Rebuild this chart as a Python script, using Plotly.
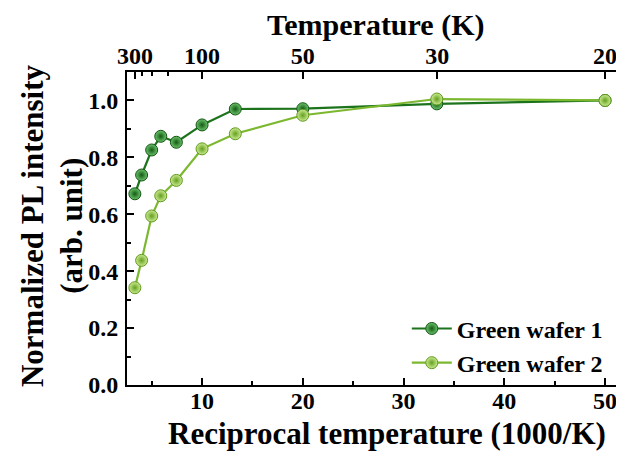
import plotly.graph_objects as go

# Data
recip_T = [3.33, 4.0, 5.0, 5.9, 7.45, 10.0, 13.3, 20.0, 33.3, 50.0]
wafer1 = [0.672, 0.738, 0.826, 0.874, 0.853, 0.914, 0.970, 0.971, 0.988, 1.0]
wafer2 = [0.342, 0.438, 0.594, 0.665, 0.719, 0.830, 0.883, 0.948, 1.005, 1.0]
top_tick_vals = [3.333, 10.0, 20.0, 33.333, 50.0]
top_tick_text = ["300", "100", "50", "30", "20"]
top_minor_vals = [4.0, 5.0, 6.667]
bottom_ticks = [10, 20, 30, 40, 50]
y_ticks = [0.0, 0.2, 0.4, 0.6, 0.8, 1.0]

FONT = "Liberation Serif"
DARK = "#1c731c"
LIGHT = "#7cb82f"

fig = go.Figure()
fig.add_trace(go.Scatter(
    x=recip_T, y=wafer1, mode="lines+markers", name="<b>Green wafer 1</b>",
    line=dict(color=DARK, width=2.2),
    marker=dict(size=12, color="#6cc46c", gradient=dict(type="radial", color="#125a12"),
                line=dict(color="#125512", width=1)),
))
fig.add_trace(go.Scatter(
    x=recip_T, y=wafer2, mode="lines+markers", name="<b>Green wafer 2</b>",
    line=dict(color=LIGHT, width=2.2),
    marker=dict(size=12, color="#cdeb94", gradient=dict(type="radial", color="#64a01e"),
                line=dict(color="#5f9a1c", width=1)),
))
fig.add_trace(go.Scatter(x=[recip_T[0]], y=[wafer1[0]], xaxis="x2", mode="markers",
                         marker=dict(opacity=0), showlegend=False, hoverinfo="skip"))
fig.add_trace(go.Scatter(x=[recip_T[0]], y=[wafer1[0]], yaxis="y2", mode="markers",
                         marker=dict(opacity=0), showlegend=False, hoverinfo="skip"))

xr = [2.55, 51.88]
yr = [0, 1.1]
tickfont = dict(family=FONT, size=24, color="black")
minor_style = dict(ticks="inside", ticklen=4, tickwidth=1.5, tickcolor="black")

fig.update_layout(
    width=616, height=446,
    margin=dict(l=119, r=0, t=64, b=69, autoexpand=False),
    plot_bgcolor="white", paper_bgcolor="white",
    font=dict(family=FONT, color="black"),
    xaxis=dict(range=xr, tickmode="array", tickvals=bottom_ticks,
               ticktext=[f"<b>{v}</b>" for v in bottom_ticks],
               ticks="inside", ticklen=7, tickwidth=2, tickcolor="black",
               minor=dict(tickmode="array", tickvals=[5, 15, 25, 35, 45], **minor_style),
               showline=True, linecolor="black", linewidth=2, mirror=False, automargin=False,
               showgrid=False, zeroline=False, tickfont=tickfont, ticklabelstandoff=-7),
    xaxis2=dict(range=xr, overlaying="x", side="top", tickmode="array",
                tickvals=top_tick_vals, ticktext=[f"<b>{t}</b>" for t in top_tick_text],
                ticks="inside", ticklen=7, tickwidth=2, tickcolor="black",
                minor=dict(tickmode="array", tickvals=top_minor_vals, **minor_style),
                showline=True, linecolor="black", linewidth=2, automargin=False,
                showgrid=False, zeroline=False, tickfont=tickfont, ticklabelstandoff=-4),
    yaxis=dict(range=yr, tickmode="array", tickvals=y_ticks,
               ticktext=[f"<b>{v:.1f}</b>" for v in y_ticks],
               ticks="inside", ticklen=7, tickwidth=2, tickcolor="black",
               minor=dict(tickmode="array", tickvals=[0.1, 0.3, 0.5, 0.7, 0.9], **minor_style),
               showline=True, linecolor="black", linewidth=2, automargin=False,
               showgrid=False, zeroline=False, tickfont=tickfont, ticklabelstandoff=2),
    yaxis2=dict(range=yr, overlaying="y", side="right", tickmode="array", tickvals=y_ticks,
                showticklabels=False, ticks="inside", ticklen=7, tickwidth=2, tickcolor="black",
                minor=dict(tickmode="array", tickvals=[0.1, 0.3, 0.5, 0.7, 0.9], **minor_style),
                showline=False, showgrid=False, zeroline=False, automargin=False),
    legend=dict(x=0.563, y=0.125, xanchor="left", yanchor="middle",
                bgcolor="rgba(0,0,0,0)", font=dict(family=FONT, size=24, color="black"),
                tracegroupgap=0, itemwidth=40),
    showlegend=True,
    annotations=[
        dict(text="<b>Reciprocal temperature (1000/K)</b>", xref="paper", yref="paper",
             x=0.523, y=-0.155, xanchor="center", yanchor="middle", showarrow=False,
             font=dict(family=FONT, size=31, color="black")),
        dict(text="<b>Temperature (K)</b>", xref="paper", yref="paper",
             x=0.501, y=1.15, xanchor="center", yanchor="middle", showarrow=False,
             font=dict(family=FONT, size=30, color="black")),
        dict(text="<b>Normalized PL intensity</b>", xref="paper", yref="paper",
             xanchor="center", yanchor="middle", x=-0.189, y=0.508, textangle=-90,
             showarrow=False, font=dict(family=FONT, size=31, color="black")),
        dict(text="<b>(arb. unit)</b>", xref="paper", yref="paper",
             xanchor="center", yanchor="middle", x=-0.111, y=0.508, textangle=-90,
             showarrow=False, font=dict(family=FONT, size=31, color="black")),
    ],
)
fig.write_html("out.html")
